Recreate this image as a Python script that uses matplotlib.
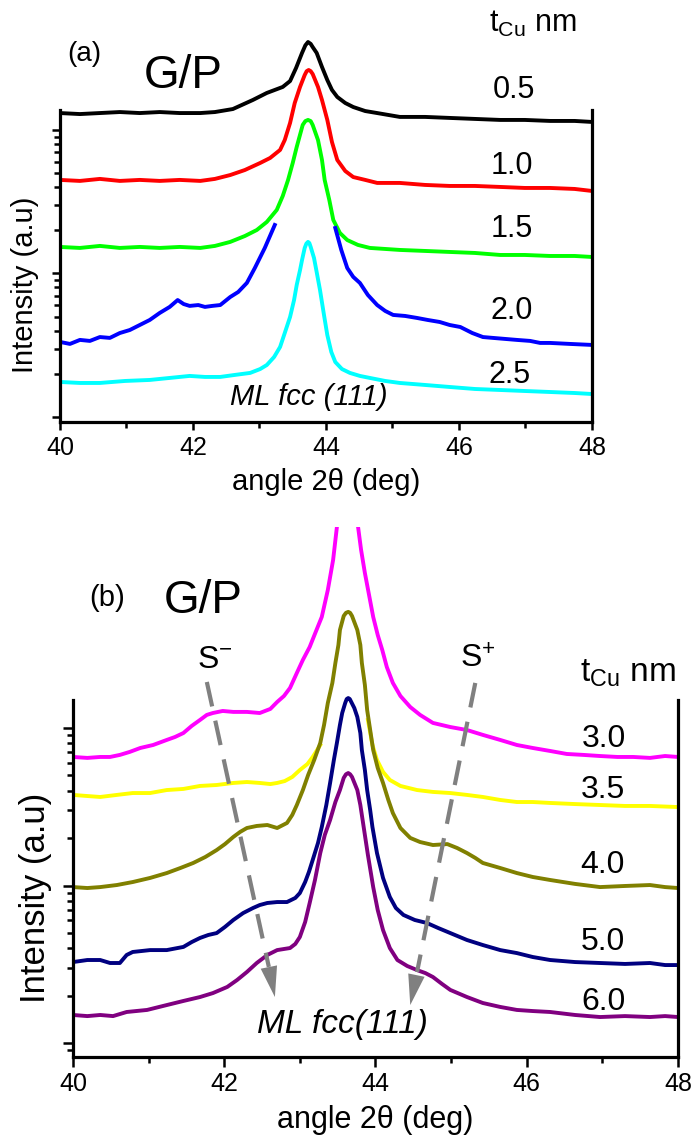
import numpy as np
import matplotlib
matplotlib.use('Agg')
import matplotlib.pyplot as plt
from matplotlib.ticker import FixedLocator, NullFormatter, MultipleLocator

plt.rcParams['font.family'] = ['Liberation Sans', 'DejaVu Sans']
plt.rcParams['mathtext.fontset'] = 'custom'
plt.rcParams['mathtext.rm'] = 'Liberation Sans'
plt.rcParams['mathtext.it'] = 'Liberation Sans:italic'

# values are log10(intensity), intensity in arbitrary units (offset curves)

# ---- panel (a): t_Cu = 0.5 ... 2.5 nm
a_labels = ['0.5', '1.0', '1.5', '2.0', '2.5']
a_colors = ['black', '#ff0000', '#00ff00', '#0000ff', '#00ffff']

a05_x = [40.0, 40.30, 40.60, 40.90, 41.20, 41.50, 41.80, 42.11, 42.33, 42.60, 42.90, 43.11, 43.35, 43.46,
         43.55, 43.64, 43.69, 43.73, 43.77, 43.80, 43.86, 43.94, 44.02, 44.09, 44.17, 44.29, 44.41, 44.59,
         44.77, 45.11, 45.49, 45.86, 46.24, 46.62, 46.99, 47.37, 47.74, 48.0]
a05_y = [2.118, 2.111, 2.118, 2.125, 2.118, 2.125, 2.118, 2.118, 2.125, 2.146, 2.209, 2.258, 2.300, 2.341,
         2.432, 2.537, 2.590, 2.613, 2.600, 2.578, 2.537, 2.439, 2.348, 2.279, 2.230, 2.188, 2.160, 2.132,
         2.118, 2.091, 2.091, 2.084, 2.077, 2.070, 2.070, 2.063, 2.063, 2.056]

a10_x = [40.0, 40.30, 40.60, 40.90, 41.20, 41.50, 41.80, 42.11, 42.33, 42.56, 42.78, 43.01, 43.16, 43.31,
         43.38, 43.46, 43.53, 43.61, 43.68, 43.71, 43.74, 43.77, 43.80, 43.88, 43.94, 44.02, 44.09, 44.17,
         44.29, 44.41, 44.59, 44.77, 45.11, 45.49, 45.86, 46.24, 46.62, 46.99, 47.37, 47.74, 48.0]
a10_y = [1.652, 1.645, 1.659, 1.645, 1.652, 1.645, 1.652, 1.645, 1.659, 1.686, 1.721, 1.770, 1.805, 1.861,
         1.930, 2.049, 2.188, 2.300, 2.383, 2.410, 2.418, 2.410, 2.390, 2.300, 2.209, 2.070, 1.916, 1.791,
         1.714, 1.672, 1.652, 1.631, 1.631, 1.617, 1.610, 1.610, 1.603, 1.596, 1.596, 1.589, 1.575]

a15_x = [40.0, 40.30, 40.60, 40.90, 41.20, 41.50, 41.80, 42.11, 42.33, 42.56, 42.78, 42.96, 43.11, 43.26,
         43.35, 43.43, 43.50, 43.56, 43.65, 43.69, 43.73, 43.77, 43.80, 43.88, 43.94, 43.98, 44.05, 44.11,
         44.21, 44.32, 44.48, 44.66, 45.11, 45.49, 45.86, 46.24, 46.62, 46.99, 47.37, 47.74, 48.0]
a15_y = [1.185, 1.178, 1.192, 1.178, 1.185, 1.178, 1.185, 1.178, 1.192, 1.220, 1.261, 1.303, 1.359, 1.443,
         1.540, 1.652, 1.770, 1.882, 2.035, 2.062, 2.070, 2.062, 2.035, 1.930, 1.791, 1.652, 1.512, 1.373,
         1.282, 1.233, 1.199, 1.178, 1.164, 1.157, 1.150, 1.143, 1.129, 1.129, 1.122, 1.122, 1.115]

# peak of the 2.0 nm scan is not shown in the original (gap)
a20_x = [40.0, 40.15, 40.30, 40.45, 40.60, 40.75, 40.90, 41.05, 41.20, 41.35, 41.50, 41.65, 41.77, 41.86,
         41.95, 42.08, 42.18, 42.29, 42.41, 42.56, 42.68, 42.81, 42.93, 43.08, 43.23, np.nan,
         44.14, 44.23, 44.32, 44.41, 44.51, 44.63, 44.77, 44.89, 45.01, 45.19, 45.37, 45.53, 45.71, 45.86,
         46.02, 46.20, 46.36, 46.51, 46.69, 46.87, 47.07, 47.22, 47.37, 47.67, 48.0]
a20_y = [0.523, 0.509, 0.537, 0.530, 0.557, 0.551, 0.585, 0.606, 0.641, 0.676, 0.725, 0.767, 0.815, 0.787,
         0.774, 0.780, 0.767, 0.774, 0.780, 0.836, 0.871, 0.934, 1.038, 1.178, 1.338, np.nan,
         1.317, 1.164, 1.038, 0.976, 0.934, 0.850, 0.780, 0.739, 0.711, 0.704, 0.690, 0.676, 0.662, 0.641,
         0.627, 0.585, 0.557, 0.551, 0.544, 0.537, 0.530, 0.516, 0.516, 0.509, 0.502]

a25_x = [40.0, 40.30, 40.60, 40.98, 41.35, 41.65, 41.95, 42.18, 42.41, 42.63, 42.86, 43.01, 43.11, 43.22,
         43.31, 43.38, 43.46, 43.52, 43.56, 43.61, 43.64, 43.68, 43.705, 43.73, 43.75, 43.77, 43.82, 43.86,
         43.91, 43.97, 44.02, 44.08, 44.14, 44.24, 44.36, 44.51, 44.66, 44.89, 45.11, 45.49, 45.86, 46.24,
         46.62, 46.99, 47.37, 47.74, 48.0]
a25_y = [0.244, 0.237, 0.237, 0.251, 0.258, 0.272, 0.286, 0.279, 0.279, 0.293, 0.307, 0.334, 0.362, 0.418,
         0.488, 0.585, 0.697, 0.815, 0.920, 1.024, 1.094, 1.178, 1.208, 1.220, 1.212, 1.185, 1.108, 1.010,
         0.885, 0.711, 0.571, 0.453, 0.383, 0.334, 0.307, 0.286, 0.272, 0.251, 0.237, 0.223, 0.209, 0.195,
         0.188, 0.181, 0.174, 0.167, 0.160]

# ---- panel (b): t_Cu = 3.0 ... 6.0 nm
b_labels = ['3.0', '3.5', '4.0', '5.0', '6.0']
b_colors = ['#ff00ff', '#ffff00', '#808000', '#000080', '#800080']

b30_x = [40.00, 40.19, 40.36, 40.49, 40.62, 40.75, 40.89, 41.06, 41.24, 41.35, 41.46, 41.57, 41.68, 41.77,
         41.85, 41.98, 42.12, 42.30, 42.47, 42.61, 42.70, 42.79, 42.87, 42.96, 43.04, 43.13, 43.21, 43.29,
         43.37, 43.44, 43.49, 43.53, 43.62, 43.73, 43.77, 43.81, 43.86, 43.92, 43.97, 44.03, 44.09, 44.15,
         44.23, 44.33, 44.46, 44.59, 44.76, 44.99, 45.21, 45.42, 45.65, 45.87, 46.08, 46.31, 46.53, 46.75,
         46.97, 47.20, 47.41, 47.63, 47.83, 48.00]
b30_y = [1.816, 1.810, 1.816, 1.816, 1.829, 1.848, 1.873, 1.892, 1.924, 1.943, 1.968, 2.013, 2.051, 2.083,
         2.095, 2.108, 2.102, 2.102, 2.095, 2.121, 2.165, 2.203, 2.254, 2.349, 2.432, 2.514, 2.610, 2.705,
         2.876, 3.067, 3.276, 3.511, 4.083, 3.511, 3.276, 3.130, 2.984, 2.832, 2.705, 2.590, 2.495, 2.387,
         2.286, 2.203, 2.133, 2.083, 2.032, 2.006, 1.987, 1.956, 1.924, 1.892, 1.873, 1.854, 1.835, 1.829,
         1.822, 1.816, 1.816, 1.810, 1.822, 1.816]

# peak of the 3.5 nm scan is not shown in the original (gap)
b35_x = [40.00, 40.19, 40.36, 40.58, 40.79, 41.02, 41.24, 41.46, 41.68, 41.90, 42.12, 42.30, 42.47, 42.61,
         42.70, 42.80, 42.90, 43.00, 43.10, 43.17, 43.27, np.nan,
         43.90, 43.96, 44.02, 44.10, 44.19, 44.33, 44.55, 44.76, 44.99, 45.21, 45.42, 45.65, 45.87, 46.08,
         46.31, 46.64, 46.97, 47.30, 47.63, 48.00]
b35_y = [1.575, 1.568, 1.562, 1.575, 1.587, 1.587, 1.606, 1.613, 1.632, 1.638, 1.651, 1.657, 1.651, 1.644,
         1.651, 1.663, 1.689, 1.733, 1.771, 1.816, 1.892, np.nan,
         2.051, 1.892, 1.797, 1.721, 1.670, 1.632, 1.606, 1.594, 1.587, 1.575, 1.562, 1.543, 1.530, 1.530,
         1.524, 1.517, 1.511, 1.505, 1.505, 1.498]

b40_x = [40.00, 40.19, 40.36, 40.58, 40.79, 41.02, 41.24, 41.42, 41.59, 41.75, 41.90, 42.01, 42.12, 42.21,
         42.30, 42.43, 42.57, 42.70, 42.83, 42.90, 42.96, 43.04, 43.11, 43.19, 43.27, 43.32, 43.37, 43.43,
         43.47, 43.51, 43.53, 43.58, 43.61, 43.64, 43.665, 43.69, 43.76, 43.80, 43.82, 43.86, 43.89, 43.93,
         43.97, 44.03, 44.10, 44.17, 44.23, 44.33, 44.46, 44.59, 44.76, 44.95, 45.08, 45.21, 45.32, 45.42,
         45.65, 45.87, 46.08, 46.31, 46.64, 46.97, 47.30, 47.63, 47.83, 48.00]
b40_y = [0.990, 0.984, 0.990, 1.003, 1.022, 1.048, 1.079, 1.111, 1.143, 1.181, 1.225, 1.263, 1.308, 1.340,
         1.365, 1.378, 1.384, 1.365, 1.397, 1.448, 1.511, 1.606, 1.702, 1.797, 1.905, 2.019, 2.159, 2.286,
         2.413, 2.527, 2.622, 2.711, 2.731, 2.737, 2.731, 2.711, 2.622, 2.527, 2.413, 2.273, 2.114, 1.987,
         1.860, 1.746, 1.651, 1.543, 1.460, 1.365, 1.302, 1.276, 1.257, 1.263, 1.238, 1.206, 1.175, 1.143,
         1.111, 1.079, 1.054, 1.035, 1.010, 0.990, 0.997, 1.003, 0.990, 0.984]

b50_x = [40.00, 40.19, 40.36, 40.49, 40.62, 40.71, 40.79, 41.02, 41.24, 41.46, 41.57, 41.68, 41.79, 41.90,
         42.01, 42.12, 42.25, 42.38, 42.47, 42.57, 42.70, 42.83, 42.94, 43.00, 43.07, 43.12, 43.17, 43.24,
         43.29, 43.35, 43.40, 43.45, 43.49, 43.53, 43.56, 43.60, 43.62, 43.64, 43.66, 43.68, 43.72, 43.76,
         43.80, 43.82, 43.86, 43.89, 43.93, 43.96, 44.02, 44.10, 44.19, 44.27, 44.37, 44.52, 44.68, 44.83,
         44.99, 45.21, 45.42, 45.65, 45.87, 46.08, 46.31, 46.64, 46.97, 47.30, 47.63, 47.83, 48.00]
b50_y = [0.514, 0.527, 0.527, 0.508, 0.508, 0.559, 0.578, 0.590, 0.590, 0.610, 0.641, 0.667, 0.686, 0.698,
         0.737, 0.781, 0.825, 0.857, 0.876, 0.889, 0.895, 0.895, 0.921, 0.952, 1.022, 1.086, 1.162, 1.270,
         1.371, 1.511, 1.651, 1.797, 1.905, 2.019, 2.095, 2.159, 2.184, 2.190, 2.184, 2.165, 2.127, 2.070,
         1.968, 1.860, 1.733, 1.606, 1.479, 1.371, 1.206, 1.048, 0.927, 0.857, 0.813, 0.781, 0.762, 0.730,
         0.698, 0.654, 0.622, 0.590, 0.571, 0.546, 0.527, 0.514, 0.508, 0.502, 0.508, 0.495, 0.495]

b60_x = [40.00, 40.19, 40.36, 40.53, 40.71, 40.98, 41.24, 41.46, 41.68, 41.85, 42.04, 42.17, 42.30, 42.43,
         42.57, 42.70, 42.87, 42.94, 43.00, 43.07, 43.13, 43.20, 43.27, 43.33, 43.40, 43.47, 43.53, 43.58,
         43.61, 43.64, 43.665, 43.69, 43.76, 43.80, 43.84, 43.90, 43.97, 44.03, 44.10, 44.19, 44.29, 44.42,
         44.55, 44.66, 44.76, 44.88, 44.99, 45.21, 45.42, 45.65, 45.87, 46.08, 46.31, 46.64, 46.97, 47.30,
         47.63, 47.83, 48.00]
b60_y = [0.178, 0.171, 0.178, 0.171, 0.197, 0.210, 0.241, 0.267, 0.292, 0.317, 0.356, 0.400, 0.451, 0.508,
         0.559, 0.590, 0.603, 0.629, 0.673, 0.768, 0.889, 1.035, 1.206, 1.321, 1.416, 1.530, 1.606, 1.683,
         1.706, 1.714, 1.706, 1.689, 1.606, 1.511, 1.384, 1.194, 0.990, 0.844, 0.717, 0.603, 0.527, 0.489,
         0.463, 0.444, 0.419, 0.375, 0.337, 0.292, 0.254, 0.229, 0.210, 0.203, 0.197, 0.178, 0.165, 0.171,
         0.165, 0.171, 0.165]

# dashed guide arrows for the satellite peaks (x in deg, y in log10 units)
s_minus_start, s_minus_base, s_minus_tip = (41.77, 2.292), (42.59, 0.483), (42.67, 0.292)
s_plus_start, s_plus_base, s_plus_tip = (45.32, 2.286), (44.55, 0.451), (44.46, 0.241)


def log_ticks(lo, hi):
    # decade and 2..9 sub-decade positions that fall on the visible part of the spine
    major, minor = [], []
    for d in range(int(np.floor(lo)) - 1, int(np.ceil(hi)) + 1):
        for k in range(1, 10):
            v = k * 10.0 ** d
            if lo <= np.log10(v) <= hi:
                (major if k == 1 else minor).append(v)
    return major, minor


def setup_axes(ax, ylo, yhi, spine_top, tick_size, maj_len, min_len, pad):
    ax.set_xlim(40, 48)
    ax.set_yscale('log')
    ax.set_ylim(10 ** ylo, 10 ** yhi)
    ax.xaxis.set_major_locator(MultipleLocator(2))
    ax.xaxis.set_minor_locator(MultipleLocator(1))
    major, minor = log_ticks(ylo, spine_top)
    ax.yaxis.set_major_locator(FixedLocator(major))
    ax.yaxis.set_minor_locator(FixedLocator(minor))
    ax.yaxis.set_major_formatter(NullFormatter())
    ax.yaxis.set_minor_formatter(NullFormatter())
    ax.spines['top'].set_visible(False)
    for side in ['left', 'right', 'bottom']:
        ax.spines[side].set_linewidth(2.3)
    ax.spines['left'].set_bounds(10 ** ylo, 10 ** spine_top)
    ax.spines['right'].set_bounds(10 ** ylo, 10 ** spine_top)
    ax.tick_params(axis='both', which='both', direction='out', width=1.8, top=False, right=False)
    ax.tick_params(axis='both', which='major', length=maj_len)
    ax.tick_params(axis='both', which='minor', length=min_len)
    ax.tick_params(axis='x', labelsize=tick_size, pad=pad)
    ax.patch.set_visible(False)


fig = plt.figure(figsize=(6.99, 11.35), dpi=100)

# ---------------- panel (a)
ax_a = fig.add_axes([0.0858, 0.6282, 0.7611, 0.3454])
setup_axes(ax_a, -0.035, 2.697, 2.139, 18, 6, 4, 4)
a_series = [(a05_x, a05_y), (a10_x, a10_y), (a15_x, a15_y), (a20_x, a20_y), (a25_x, a25_y)]
for (xs, ys), c in zip(a_series, a_colors):
    ax_a.plot(xs, 10 ** np.array(ys), color=c, lw=2.8)

fig.text(0.1202, 0.9463, '(a)', fontsize=20, ha='center', va='baseline')
fig.text(0.2618, 0.9225, 'G/P', fontsize=33, ha='center', va='baseline')
fig.text(0.7000, 0.9718, r'$\mathrm{t_{Cu}}$ nm', fontsize=22, ha='left', va='baseline')
a_label_pos = [(0.7353, 0.9137), (0.7325, 0.8467), (0.7325, 0.7912), (0.7325, 0.7189), (0.7296, 0.6626)]
for lab, (fx, fy) in zip(a_labels, a_label_pos):
    fig.text(fx, fy, lab, fontsize=22, ha='center', va='baseline')
fig.text(0.329, 0.6432, 'ML fcc (111)', fontsize=21, style='italic', ha='left', va='baseline')
fig.text(0.4664, 0.5683, 'angle 2\u03b8 (deg)', fontsize=21, ha='center', va='baseline')
fig.text(0.0358, 0.7489, 'Intensity (a.u)', fontsize=21, rotation=90, ha='center', va='center')

# ---------------- panel (b)
ax_b = fig.add_axes([0.1044, 0.0687, 0.8655, 0.4670])
setup_axes(ax_b, -0.0889, 3.276, 2.178, 18, 7, 4.5, 4)
b_series = [(b30_x, b30_y), (b35_x, b35_y), (b40_x, b40_y), (b50_x, b50_y), (b60_x, b60_y)]
for (xs, ys), c in zip(b_series, b_colors):
    ax_b.plot(xs, 10 ** np.array(ys), color=c, lw=2.8)

for start, base, tip in [(s_minus_start, s_minus_base, s_minus_tip),
                         (s_plus_start, s_plus_base, s_plus_tip)]:
    ax_b.plot([start[0], base[0]], [10 ** start[1], 10 ** base[1]], color='#808080', lw=3,
              dashes=(6, 3.5), zorder=5)
    ax_b.annotate('', xy=(tip[0], 10 ** tip[1]), xytext=(base[0], 10 ** base[1]),
                  arrowprops=dict(arrowstyle='-|>,head_length=1.1,head_width=0.3', color='#808080',
                                  lw=0, mutation_scale=20, shrinkA=0, shrinkB=0), zorder=5)

fig.text(0.1531, 0.4661, '(b)', fontsize=21, ha='center', va='baseline')
fig.text(0.2904, 0.4599, 'G/P', fontsize=33, ha='center', va='baseline')
fig.text(0.2818, 0.4115, r'S$^{\mathrm{-}}$', fontsize=23, ha='left', va='baseline')
fig.text(0.6581, 0.4115, r'S$^{\mathrm{+}}$', fontsize=23, ha='left', va='baseline')
fig.text(0.8298, 0.3991, r'$\mathrm{t_{Cu}}$ nm', fontsize=24, ha='left', va='baseline')
b_label_pos = [(0.8641, 0.3419), (0.8627, 0.2969), (0.8612, 0.2308), (0.8627, 0.1630), (0.8627, 0.1101)]
for lab, (fx, fy) in zip(b_labels, b_label_pos):
    fig.text(fx, fy, lab, fontsize=23, ha='center', va='baseline')
fig.text(0.3677, 0.0899, 'ML fcc(111)', fontsize=24, style='italic', ha='left', va='baseline')
fig.text(0.5365, 0.0062, 'angle 2\u03b8 (deg)', fontsize=22, ha='center', va='baseline')
fig.text(0.0501, 0.2088, 'Intensity (a.u)', fontsize=25, rotation=90, ha='center', va='center')

fig.savefig('out.png', dpi=100)
